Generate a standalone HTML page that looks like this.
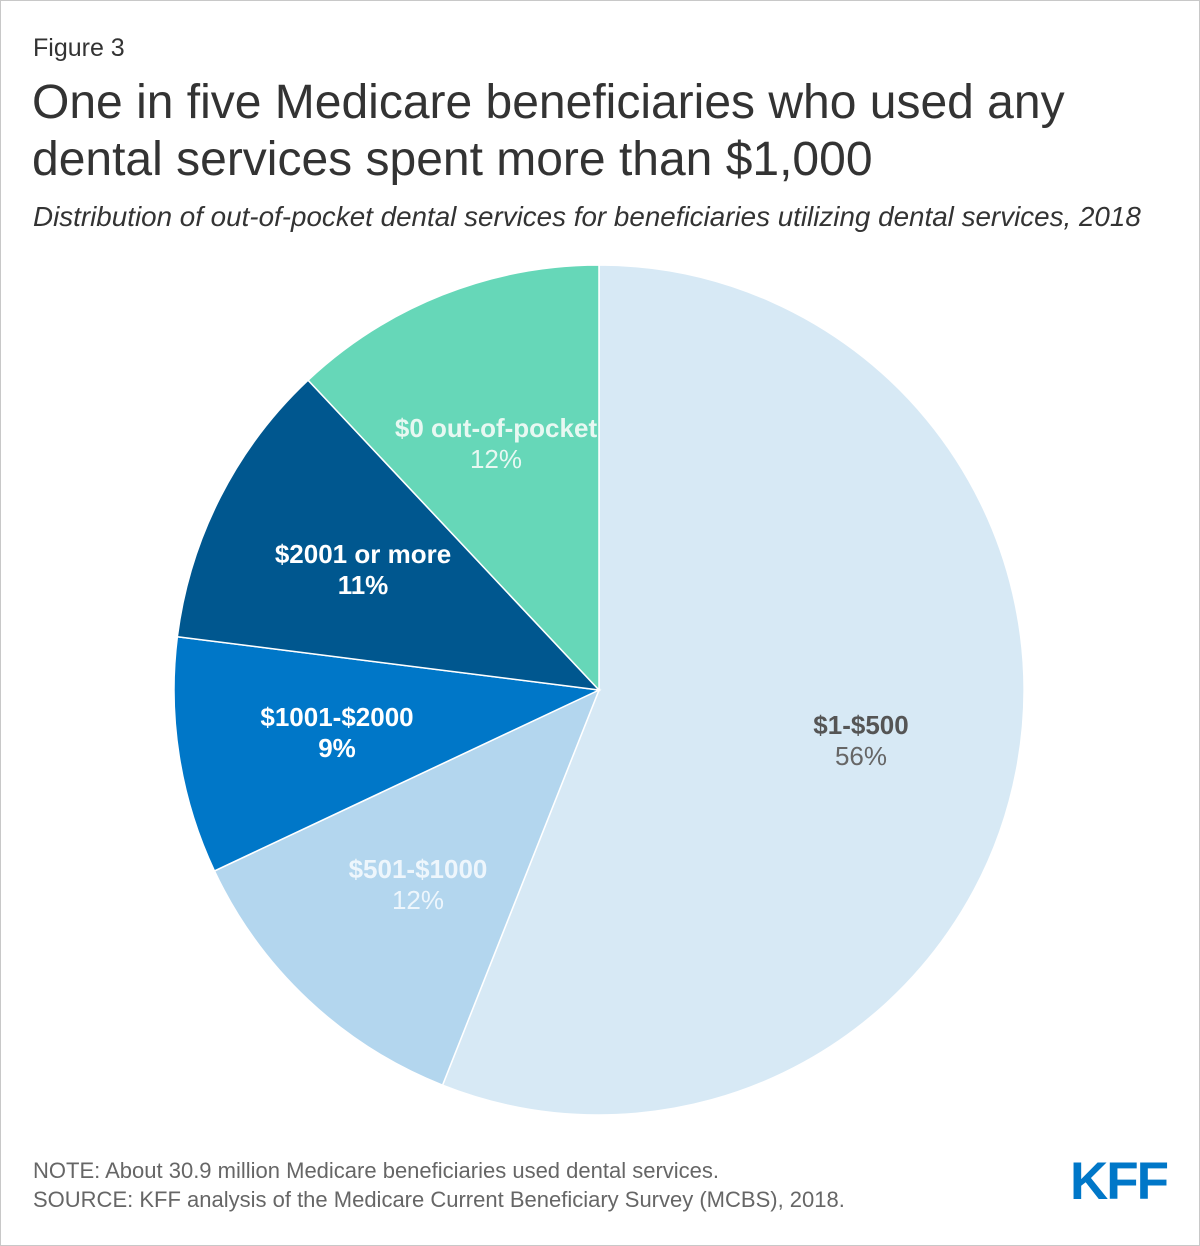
<!DOCTYPE html>
<html><head><meta charset="utf-8"><style>
html,body{margin:0;padding:0;background:#fff}
#wrap{position:relative;width:1198px;height:1244px;border:1px solid #c8c8c8;overflow:hidden;font-family:"Liberation Sans",sans-serif;color:#333}
.t{position:absolute;white-space:nowrap}
</style></head><body>
<div id="wrap">
<div class="t" style="left:32px;top:33px;font-size:25px;color:#333">Figure 3</div>
<div class="t" style="left:31px;top:73px;font-size:48px;line-height:57px;color:#333">One in five Medicare beneficiaries who used any<br>dental services spent more than $1,000</div>
<div class="t" style="left:32px;top:200px;font-size:27.8px;font-style:italic;color:#333">Distribution of out-of-pocket dental services for beneficiaries utilizing dental services, 2018</div>
<svg id="pie" width="1200" height="1246" style="position:absolute;left:-1px;top:-1px"></svg>
<div class="t" style="left:32px;top:1157px;font-size:22px;color:#666">NOTE: About 30.9 million Medicare beneficiaries used dental services.</div>
<div class="t" style="left:32px;top:1186px;font-size:22px;color:#666">SOURCE: KFF analysis of the Medicare Current Beneficiary Survey (MCBS), 2018.</div>
<div class="t" style="left:1069px;top:1150px;font-size:53px;font-weight:bold;color:#0077c8;letter-spacing:-2px">KFF</div>
</div>
<script>
const categories = ["$1-$500","$501-$1000","$1001-$2000","$2001 or more","$0 out-of-pocket"];
const values = [56,12,9,11,12];
const valueLabels = ["56%","12%","9%","11%","12%"];
const colors = ["#d7e9f5","#b3d6ee","#0077c8","#00578f","#66d7b8"];
const nameColors = ["#555","#eef6fc","#fff","#fff","#e8f8f2"];
const pctColors = ["#666","#eef6fc","#fff","#fff","#e8f8f2"];
const pctBold = [false,false,true,true,false];
const labelPos = [[861,725],[418,869],[337,717],[363,554],[496,428]];
const cx=599, cy=690, R=425;
const svg=document.getElementById('pie');
const NS="http://www.w3.org/2000/svg";
const total=values.reduce((a,b)=>a+b,0);
function pt(a){return [cx+R*Math.sin(a), cy-R*Math.cos(a)];}
let acc=0;
values.forEach((v,i)=>{
  const a0=acc/total*2*Math.PI; acc+=v; const a1=acc/total*2*Math.PI;
  const p0=pt(a0), p1=pt(a1);
  const large=(a1-a0)>Math.PI?1:0;
  const path=document.createElementNS(NS,'path');
  path.setAttribute('d',`M${cx},${cy} L${p0[0]},${p0[1]} A${R},${R} 0 ${large} 1 ${p1[0]},${p1[1]} Z`);
  path.setAttribute('fill',colors[i]);
  path.setAttribute('stroke','#fff');
  path.setAttribute('stroke-width','1.5');
  
  
  svg.appendChild(path);
});
values.forEach((v,i)=>{
  const [x,y]=labelPos[i];
  const t1=document.createElementNS(NS,'text');
  t1.setAttribute('x',x); t1.setAttribute('y',y+9);
  t1.setAttribute('text-anchor','middle');
  t1.setAttribute('font-family','Liberation Sans, sans-serif');
  t1.setAttribute('font-size','26'); t1.setAttribute('font-weight','bold');
  t1.setAttribute('fill',nameColors[i]);
  t1.textContent=categories[i];
  
  
  svg.appendChild(t1);
  const t2=document.createElementNS(NS,'text');
  t2.setAttribute('x',x); t2.setAttribute('y',y+40);
  t2.setAttribute('text-anchor','middle');
  t2.setAttribute('font-family','Liberation Sans, sans-serif');
  t2.setAttribute('font-size','26');
  if(pctBold[i]) t2.setAttribute('font-weight','bold');
  t2.setAttribute('fill',pctColors[i]);
  t2.textContent=valueLabels[i];
  
  
  svg.appendChild(t2);
});
</script>
</body></html>
